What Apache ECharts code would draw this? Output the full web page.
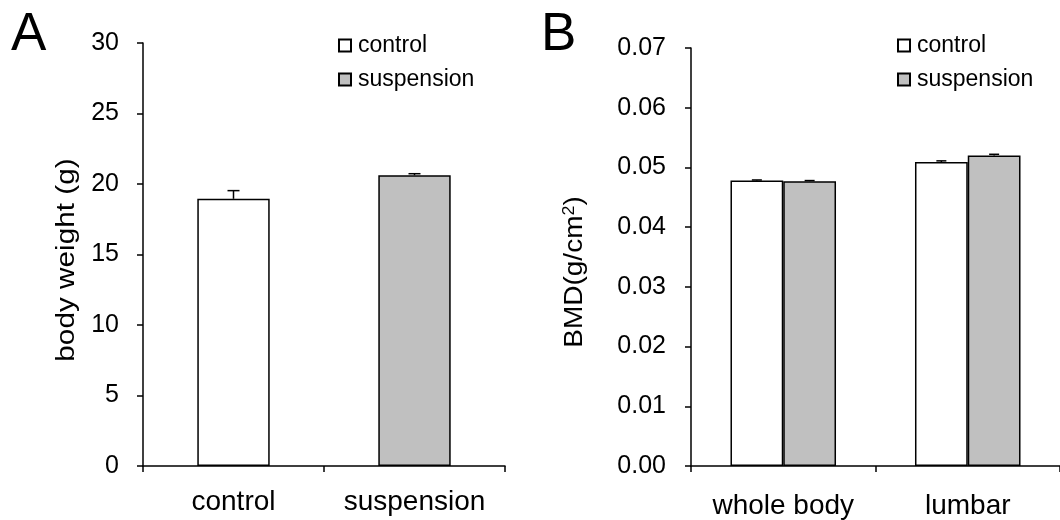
<!DOCTYPE html>
<html>
<head>
<meta charset="utf-8">
<script src="https://cdn.jsdelivr.net/npm/echarts@6/dist/echarts.min.js"></script>
<style>
  html, body { margin: 0; padding: 0; background: #fff; }
  #chart { width: 1060px; height: 520px; }
</style>
</head>
<body>
<div id="chart"></div>
<script>
// Panel A: body weight per group (mean, SEM)
const weightCategories = ['control', 'suspension'];
const weightMeans = [18.95, 20.62];
const weightErrors = [0.58, 0.11];
const weightTicks = { min: 0, max: 30, interval: 5 };

// Panel B: bone mineral density by site (mean, SEM)
const bmdCategories = ['whole body', 'lumbar'];
const bmdControl = [0.0478, 0.0509];
const bmdControlErr = [0.0001, 0.0002];
const bmdSuspension = [0.0477, 0.0520];
const bmdSuspensionErr = [0.0001, 0.0002];
const bmdTicks = { min: 0, max: 0.07, interval: 0.01 };

const seriesNames = ['control', 'suspension'];
const FONT = 'Liberation Sans, Arial, sans-serif';
const INK = '#000';
const fills = { control: '#ffffff', suspension: '#c0c0c0' };

// One-sided (upper) error bar, offset from the category centre by a fraction of the band
function errorBar(offsetFrac, capWidth) {
  return function (params, api) {
    const idx = api.value(0), v = api.value(1), e = api.value(2);
    const band = api.size([1, 0])[0];
    const base = api.coord([idx, v]);
    const top = api.coord([idx, v + e]);
    const cx = base[0] + offsetFrac * band;
    const style = { stroke: INK, lineWidth: 1.5 };
    return {
      type: 'group',
      children: [
        { type: 'line', shape: { x1: cx, y1: base[1], x2: cx, y2: top[1] }, style },
        { type: 'line', shape: { x1: cx - capWidth / 2, y1: top[1], x2: cx + capWidth / 2, y2: top[1] }, style }
      ]
    };
  };
}

const axisLine = { show: true, lineStyle: { color: INK, width: 1.5 } };
const axisTick = { show: true, length: 6, lineStyle: { color: INK, width: 1.5 } };

// Panel A: each group sits in its own category
const weightControl = weightMeans.map((v, i) => (i === 0 ? v : '-'));
const weightSusp = weightMeans.map((v, i) => (i === 1 ? v : '-'));

const BAR_B = 0.286; // bar width as fraction of category band (panel B)

// Rotated axis titles (stretched slightly along their length)
function axisTitle(x, y, text, rich, scale) {
  return {
    type: 'text', x: x, y: y, rotation: Math.PI / 2, scaleX: scale, scaleY: 1,
    style: {
      text: text, rich: rich, fill: INK,
      font: '25px ' + FONT, align: 'center', verticalAlign: 'middle'
    }
  };
}

const option = {
  backgroundColor: '#fff',
  animation: false,
  textStyle: { fontFamily: FONT, color: INK },
  graphic: [
    { type: 'text', left: 11, top: 9, style: { text: 'A', font: '53px ' + FONT, fill: INK } },
    { type: 'text', left: 541, top: 9, style: { text: 'B', font: '53px ' + FONT, fill: INK } },
    axisTitle(67, 260, 'body weight (g)', null, 1.19),
    axisTitle(575, 272, '{n|BMD(g/cm}{s|2}{n|)}', {
      n: { fontSize: 25, fontFamily: FONT, color: INK },
      s: { fontSize: 16, fontFamily: FONT, color: INK, verticalAlign: 'top', padding: [0, 0, 10, 0] }
    }, 1.12)
  ],
  legend: [
    {
      orient: 'vertical', left: 333, top: 29, itemWidth: 12, itemHeight: 12, itemGap: 11,
      icon: 'rect', data: seriesNames,
      textStyle: { fontSize: 23, fontFamily: FONT, color: INK, padding: [0, 0, 0, 2] }
    },
    {
      orient: 'vertical', left: 892, top: 29, itemWidth: 12, itemHeight: 12, itemGap: 11,
      icon: 'rect', data: seriesNames,
      textStyle: { fontSize: 23, fontFamily: FONT, color: INK, padding: [0, 0, 0, 2] }
    }
  ],
  grid: [
    { left: 143, top: 43, width: 362, height: 423 },
    { left: 691, top: 48, width: 380, height: 424 }
  ],
  xAxis: [
    {
      type: 'category', gridIndex: 0, data: weightCategories,
      axisLine, axisTick,
      axisLabel: { fontSize: 28, color: INK, fontFamily: FONT, margin: 22, interval: 0 },
      splitLine: { show: false }
    },
    {
      type: 'category', gridIndex: 1, data: bmdCategories,
      axisLine, axisTick,
      axisLabel: { fontSize: 28, color: INK, fontFamily: FONT, margin: 26, interval: 0 },
      splitLine: { show: false }
    }
  ],
  yAxis: [
    {
      type: 'value', gridIndex: 0,
      min: weightTicks.min, max: weightTicks.max, interval: weightTicks.interval,
      axisLine, axisTick, splitLine: { show: false },
      axisLabel: { fontSize: 25, color: INK, fontFamily: FONT, margin: 24 }
    },
    {
      type: 'value', gridIndex: 1,
      min: bmdTicks.min, max: bmdTicks.max, interval: bmdTicks.interval,
      axisLine, axisTick, splitLine: { show: false },
      axisLabel: {
        fontSize: 25, color: INK, fontFamily: FONT, margin: 25,
        formatter: v => v.toFixed(2)
      }
    }
  ],
  series: [
    {
      name: 'control', type: 'bar', xAxisIndex: 0, yAxisIndex: 0,
      data: weightControl, barWidth: '40%', barGap: '-100%',
      itemStyle: { color: fills.control, borderColor: INK, borderWidth: 1.5 }
    },
    {
      name: 'suspension', type: 'bar', xAxisIndex: 0, yAxisIndex: 0,
      data: weightSusp, barWidth: '40%', barGap: '-100%',
      itemStyle: { color: fills.suspension, borderColor: INK, borderWidth: 1.5 }
    },
    {
      name: 'weight error', type: 'custom', xAxisIndex: 0, yAxisIndex: 0, z: 5,
      renderItem: errorBar(0, 12),
      data: weightMeans.map((v, i) => [i, v, weightErrors[i]])
    },
    {
      name: 'control', type: 'bar', xAxisIndex: 1, yAxisIndex: 1,
      data: bmdControl, barWidth: (BAR_B * 100) + '%', barGap: '0%',
      itemStyle: { color: fills.control, borderColor: INK, borderWidth: 1.5 }
    },
    {
      name: 'suspension', type: 'bar', xAxisIndex: 1, yAxisIndex: 1,
      data: bmdSuspension, barWidth: (BAR_B * 100) + '%', barGap: '0%',
      itemStyle: { color: fills.suspension, borderColor: INK, borderWidth: 1.5 }
    },
    {
      name: 'bmd control error', type: 'custom', xAxisIndex: 1, yAxisIndex: 1, z: 5,
      renderItem: errorBar(-BAR_B / 2, 10),
      data: bmdControl.map((v, i) => [i, v, bmdControlErr[i]])
    },
    {
      name: 'bmd suspension error', type: 'custom', xAxisIndex: 1, yAxisIndex: 1, z: 5,
      renderItem: errorBar(BAR_B / 2, 10),
      data: bmdSuspension.map((v, i) => [i, v, bmdSuspensionErr[i]])
    }
  ]
};

const chart = echarts.init(document.getElementById('chart'), null, { renderer: 'canvas' });
chart.setOption(option);
</script>
</body>
</html>
